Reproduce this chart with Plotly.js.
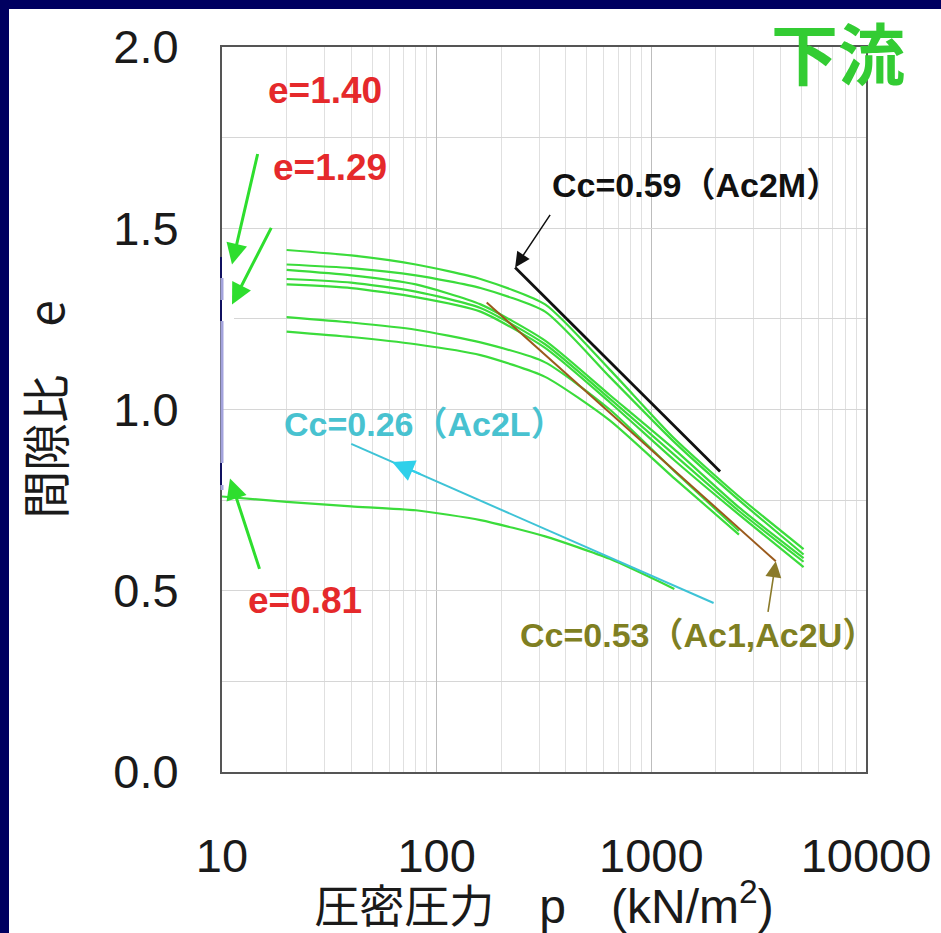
<!DOCTYPE html>
<html>
<head>
<meta charset="utf-8">
<script src="https://cdn.plot.ly/plotly-3.0.1.min.js"></script>
<style>
  html, body { margin: 0; padding: 0; background: #ffffff; }
  #wrap { position: relative; width: 941px; height: 933px; overflow: hidden; }
  #chart { position: absolute; left: 0; top: 0; width: 941px; height: 933px; }
  .frame { position: absolute; background: #000060; }
</style>
</head>
<body>
<div id="wrap">
  <div id="chart"></div>
  <div class="frame" style="left:0;top:0;width:941px;height:9px;"></div>
  <div class="frame" style="left:0;top:0;width:9px;height:933px;"></div>
</div>
<script>
// Consolidation test results: void ratio e against consolidation pressure p (kN/m2)
const pressures = [20, 40, 80, 160, 320, 640, 1280, 2560, 5120];
const eCurve1 = [1.44, 1.425, 1.40, 1.36, 1.29, 1.11, 0.92, 0.76, 0.615];
const eCurve2 = [1.40, 1.39, 1.37, 1.335, 1.27, 1.09, 0.91, 0.75, 0.60];
const eCurve3 = [1.385, 1.37, 1.345, 1.29, 1.19, 1.04, 0.89, 0.73, 0.59];
const eCurve4 = [1.36, 1.35, 1.325, 1.28, 1.18, 1.03, 0.875, 0.72, 0.58];
const eCurve5 = [1.345, 1.335, 1.31, 1.27, 1.17, 1.02, 0.86, 0.71, 0.565];
const pressuresShort = [20, 40, 80, 160, 320, 640, 1280, 2560];
const eCurve6 = [1.255, 1.24, 1.22, 1.185, 1.13, 1.00, 0.83, 0.665];
const eCurve7 = [1.215, 1.20, 1.18, 1.15, 1.09, 0.97, 0.81, 0.655];
const pressuresLow = [10, 20, 40, 80, 160, 320, 640, 1280];
const eCurveLow = [0.76, 0.745, 0.733, 0.722, 0.695, 0.65, 0.588, 0.505];

// Compression index lines: e = e0 - Cc * log10(p / p0)
const ccNames = ['Ac2M', 'Ac1,Ac2U', 'Ac2L'];
const ccValues = [0.59, 0.53, 0.26];
const ccStartP = [232, 171, 40];
const ccStartE = [1.392, 1.295, 0.905];
const ccEndP = [2090, 3800, 1950];
const ccColors = ['#111111', '#9a5a1c', '#3ec3d6'];
const ccLabelColors = ['#111111', '#7f7f22', '#48c2d0'];

// Initial void ratios marked on the e axis
const e0Values = [1.40, 1.29, 0.81];

const xTickVals = [10, 100, 1000, 10000];
const xTickText = ['10', '100', '1000', '10000'];

// minor log grid: 2..9 within each decade
const minorX = [];
for (let d = 10; d < 10000; d *= 10) {
  for (let k = 2; k <= 9; k++) minorX.push(k * d);
}

function ccLine(i) {
  const p0 = ccStartP[i], p1 = ccEndP[i];
  const e1 = ccStartE[i] - ccValues[i] * Math.log10(p1 / p0);
  return { x: [p0, p1], y: [ccStartE[i], e1] };
}
function ccAt(i, p) {
  return ccStartE[i] - ccValues[i] * Math.log10(p / ccStartP[i]);
}

const green = '#3bdc3b';
const traces = [];
[[pressures, eCurve1], [pressures, eCurve2], [pressures, eCurve3], [pressures, eCurve4],
 [pressures, eCurve5], [pressuresShort, eCurve6], [pressuresShort, eCurve7],
 [pressuresLow, eCurveLow]].forEach(function (c) {
  traces.push({
    x: c[0], y: c[1], type: 'scatter', mode: 'lines',
    line: { color: green, width: 2.2, shape: 'spline', smoothing: 0.6 },
    hoverinfo: 'skip'
  });
});
[0, 1, 2].forEach(function (i) {
  const l = ccLine(i);
  traces.push({
    x: l.x, y: l.y, type: 'scatter', mode: 'lines',
    line: { color: ccColors[i], width: i === 0 ? 2.8 : 2 },
    hoverinfo: 'skip'
  });
});

// plot area in pixels: left 222, right 866, top 47, bottom 772
const PL = 222, PW = 644, PT = 47, PH = 725;
const px = function (v) { return (v - PL) / PW; };
const py = function (v) { return (PT + PH - v) / PH; };

const labelFont = 'Liberation Sans, Arial, Noto Sans CJK JP, sans-serif';
const annotations = [];

function label(x, y, text, font) {
  annotations.push({
    xref: 'paper', yref: 'paper', x: px(x), y: py(y), xanchor: 'center', yanchor: 'middle',
    text: text, showarrow: false, font: font
  });
}

// e0 labels with green arrows
const e0LabelPos = [[325, 90], [330, 167], [305, 600]];
const e0ArrowTail = [[26, -112], [40, -78], [30, 92]];
const e0ArrowX = [232, 232, 230];
e0Values.forEach(function (v, i) {
  label(e0LabelPos[i][0], e0LabelPos[i][1], '<b>e=' + v.toFixed(2) + '</b>',
        { family: labelFont, size: 37, color: '#e5292b' });
  annotations.push({
    xref: 'paper', yref: 'y', x: px(e0ArrowX[i]), y: v, text: '',
    showarrow: true, arrowhead: 2, arrowsize: 1.4, arrowwidth: 3, arrowcolor: '#2ede2e',
    ax: e0ArrowTail[i][0], ay: e0ArrowTail[i][1]
  });
});

// Cc labels
const ccLabelPos = [[696, 185], [698, 635], [424, 424]];
[0, 1, 2].forEach(function (i) {
  label(ccLabelPos[i][0], ccLabelPos[i][1],
        '<b>Cc=' + ccValues[i].toFixed(2) + '（' + ccNames[i] + '）</b>',
        { family: labelFont, size: 34, color: ccLabelColors[i] });
});
// arrow to the start of the Ac2M line
annotations.push({
  xref: 'x', yref: 'y', x: Math.log10(ccStartP[0]), y: ccStartE[0], text: '',
  showarrow: true, arrowhead: 2, arrowsize: 2, arrowwidth: 1.5, arrowcolor: '#111111',
  ax: 36, ay: -54
});
// arrow to the end of the Ac1,Ac2U line
annotations.push({
  xref: 'x', yref: 'y', x: Math.log10(ccEndP[1]), y: ccAt(1, ccEndP[1]), text: '',
  showarrow: true, arrowhead: 2, arrowsize: 2, arrowwidth: 1.6, arrowcolor: '#8a7a2a',
  ax: -8, ay: 52
});
// arrowhead sitting on the Ac2L line
annotations.push({
  xref: 'x', yref: 'y', x: Math.log10(62), y: ccAt(2, 62), text: '',
  showarrow: true, arrowhead: 2, arrowsize: 2.2, arrowwidth: 2, arrowcolor: '#2fd0ea',
  ax: 30, ay: 13
});

// section title
label(838, 50, '<b>下流</b>', { family: 'Noto Sans CJK JP, sans-serif', size: 67, color: '#33cc33' });

// marks along the left axis
const shapes = [
  { type: 'line', xref: 'paper', yref: 'paper', x0: 0, x1: 0, y0: py(258), y1: py(490),
    line: { color: '#a3a3dc', width: 3 } },
  { type: 'rect', xref: 'paper', yref: 'paper', x0: px(222), x1: px(234), y0: py(257), y1: py(278),
    fillcolor: '#ffffff', line: { width: 0 } },
  { type: 'rect', xref: 'paper', yref: 'paper', x0: px(222), x1: px(234), y0: py(300), y1: py(321),
    fillcolor: '#ffffff', line: { width: 0 } },
  { type: 'rect', xref: 'paper', yref: 'paper', x0: px(222), x1: px(234), y0: py(463), y1: py(485),
    fillcolor: '#ffffff', line: { width: 0 } },
  { type: 'line', xref: 'paper', yref: 'paper', x0: px(221), x1: px(221), y0: py(257), y1: py(278),
    line: { color: '#101060', width: 2 } },
  { type: 'line', xref: 'paper', yref: 'paper', x0: px(221), x1: px(221), y0: py(300), y1: py(321),
    line: { color: '#101060', width: 2 } },
  { type: 'line', xref: 'paper', yref: 'paper', x0: px(221), x1: px(221), y0: py(463), y1: py(485),
    line: { color: '#101060', width: 2 } }
];

const tickFont = { family: 'Liberation Sans, Arial, sans-serif', size: 47, color: '#1a1a1a' };

const layout = {
  width: 941, height: 933,
  margin: { l: 222, r: 75, t: 47, b: 161, pad: 0 },
  paper_bgcolor: '#ffffff', plot_bgcolor: '#ffffff',
  showlegend: false,
  xaxis: {
    type: 'log', range: [1, 4],
    tickmode: 'array', tickvals: xTickVals, ticktext: xTickText,
    ticks: '', ticklabelstandoff: 42,
    tickfont: tickFont,
    showgrid: true, gridcolor: '#bdbdbd', gridwidth: 1,
    minor: { tickmode: 'array', tickvals: minorX, showgrid: true, gridcolor: '#e0e0e0', gridwidth: 1, ticks: '' },
    showline: true, mirror: true, linecolor: '#555555', linewidth: 2,
    zeroline: false,
    title: { text: '圧密圧力　<span style="font-size:48px">p</span>　<span style="font-size:48px">(kN/m<sup>2</sup>)</span>', standoff: 14,
             font: { family: 'Liberation Sans, Noto Sans CJK JP, sans-serif', size: 45, color: '#1a1a1a' } }
  },
  yaxis: {
    range: [0, 2], tickmode: 'linear', tick0: 0, dtick: 0.5, tickformat: '.1f',
    ticks: '', ticklabelstandoff: 32,
    tickfont: tickFont,
    showgrid: true, gridcolor: '#d6d6d6', gridwidth: 1,
    minor: { dtick: 0.25, showgrid: true, gridcolor: '#d6d6d6', gridwidth: 1, ticks: '' },
    showline: true, mirror: true, linecolor: '#555555', linewidth: 2,
    zeroline: false,
    title: { text: '間隙比　e', standoff: 33,
             font: { family: 'Noto Sans CJK JP, Liberation Sans, sans-serif', size: 48, color: '#1a1a1a' } }
  },
  annotations: annotations,
  shapes: shapes
};

Plotly.newPlot('chart', traces, layout, { staticPlot: true, displayModeBar: false });
</script>
</body>
</html>
